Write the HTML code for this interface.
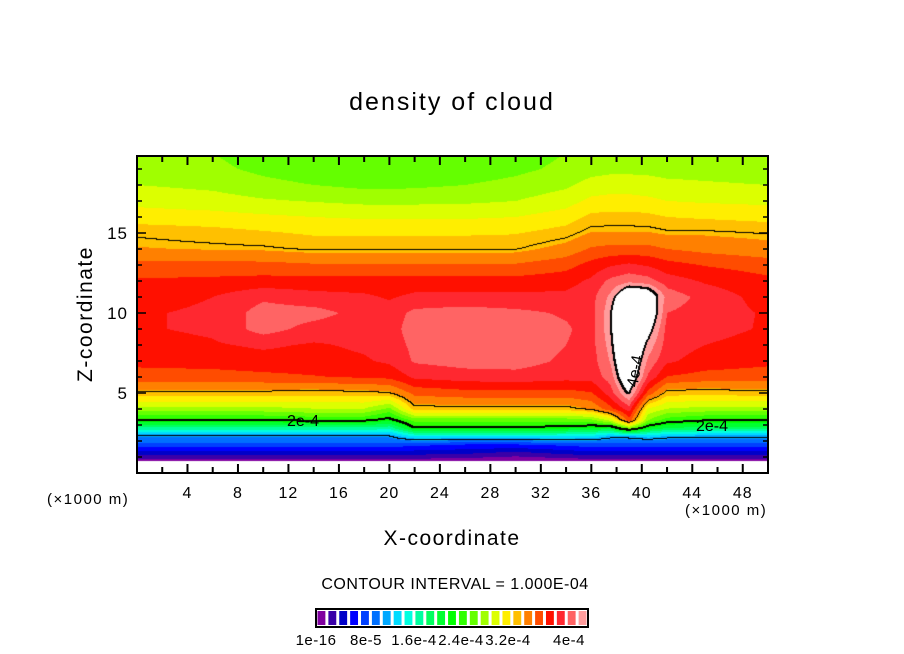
<!DOCTYPE html>
<html><head><meta charset="utf-8">
<style>
body{margin:0;background:#fff;width:904px;height:654px;overflow:hidden;position:relative;font-family:"Liberation Sans",sans-serif;}
.t{position:absolute;white-space:nowrap;color:#000;}
</style></head>
<body>
<div class="t" style="left:0;width:904px;text-align:center;top:88px;font-size:25px;letter-spacing:2px;">density of cloud</div>
<canvas id="cv" width="631" height="317" style="position:absolute;left:137px;top:156px;"></canvas>
<svg id="ax" width="904" height="654" style="position:absolute;left:0;top:0;"></svg>
<div class="t" style="left:0;width:904px;text-align:center;top:527px;font-size:21px;letter-spacing:1.5px;">X-coordinate</div>
<div class="t" style="left:86px;top:314px;font-size:21px;letter-spacing:1.5px;transform:translate(-50%,-50%) rotate(-90deg);">Z-coordinate</div>
<div class="t" style="left:47px;top:491px;font-size:15px;letter-spacing:1.5px;">(×1000 m)</div>
<div class="t" style="left:685px;top:502px;font-size:15px;letter-spacing:1.5px;">(×1000 m)</div>
<div class="t" style="left:0;width:910px;text-align:center;top:576px;font-size:16px;letter-spacing:0.5px;">CONTOUR INTERVAL = 1.000E-04</div>
<script>
const xCols=[0,6,10,14,18,20,22,26,30,34,36,37.5,39,40.5,42,45,50];
const zRows=[0,0.5,0.8,1.3,1.8,2.3,2.8,3.3,4,5,6,7,8,9,10,11,12,13,14,15,16,17,18,19,20];
const density=[
[-0.5,-0.5,-0.5,-0.5,-0.5,-0.5,-0.5,-0.5,-0.5,-0.5,-0.5,-0.5,-0.5,-0.5,-0.5,-0.5,-0.5],
[-0.3,-0.3,-0.3,-0.3,-0.3,-0.3,-0.3,-0.3,-0.2,-0.3,-0.3,-0.3,-0.3,-0.3,-0.3,-0.3,-0.3],
[0.1,0.1,0.1,0.1,0.1,0.1,0.1,0.08,0.03,0.08,0.1,0.1,0.1,0.1,0.1,0.1,0.1],
[0.45,0.45,0.45,0.45,0.45,0.45,0.42,0.38,0.3,0.4,0.45,0.45,0.45,0.45,0.45,0.45,0.45],
[0.75,0.75,0.75,0.75,0.75,0.75,0.7,0.65,0.65,0.7,0.75,0.75,0.75,0.75,0.75,0.75,0.75],
[1.0,1.0,1.0,1.0,1.0,1.0,1.3,1.3,1.3,1.3,1.25,1.1,1.1,1.2,1.1,1.05,1.05],
[1.55,1.55,1.55,1.55,1.55,1.5,2.0,2.0,2.0,1.95,1.9,1.85,2.4,1.9,1.75,1.7,1.7],
[2.05,2.05,2.05,2.1,2.1,1.95,2.3,2.3,2.3,2.3,2.35,2.6,3.3,2.4,2.15,2.05,2.05],
[2.5,2.5,2.5,2.55,2.55,2.35,2.95,2.95,2.95,2.95,3.05,3.3,3.6,2.7,2.55,2.5,2.5],
[2.97,2.97,2.97,2.95,2.97,3.0,3.25,3.3,3.3,3.3,3.35,3.6,4.05,3.3,2.95,2.93,2.97],
[3.3,3.3,3.32,3.35,3.38,3.4,3.55,3.6,3.62,3.58,3.58,3.75,4.3,3.65,3.35,3.3,3.28],
[3.4,3.42,3.45,3.45,3.5,3.55,3.7,3.75,3.75,3.65,3.6,3.85,4.4,3.8,3.55,3.45,3.4],
[3.45,3.5,3.55,3.5,3.55,3.6,3.72,3.8,3.78,3.68,3.62,3.9,4.5,3.95,3.6,3.52,3.45],
[3.5,3.55,3.75,3.62,3.58,3.62,3.75,3.8,3.78,3.7,3.62,3.95,4.5,4.15,3.62,3.58,3.5],
[3.5,3.55,3.75,3.74,3.62,3.6,3.72,3.76,3.72,3.66,3.62,3.95,4.5,4.35,3.68,3.6,3.5],
[3.45,3.52,3.65,3.58,3.55,3.5,3.56,3.56,3.56,3.56,3.62,3.88,4.3,4.25,3.78,3.62,3.45],
[3.38,3.4,3.42,3.42,3.42,3.42,3.42,3.42,3.42,3.46,3.55,3.72,3.8,3.75,3.6,3.5,3.4],
[3.25,3.25,3.25,3.22,3.22,3.22,3.22,3.22,3.22,3.3,3.42,3.5,3.55,3.5,3.42,3.35,3.28],
[3.05,3.03,3.02,2.98,2.98,2.98,2.98,2.98,2.99,3.1,3.22,3.25,3.25,3.25,3.2,3.15,3.1],
[2.98,2.94,2.9,2.86,2.86,2.86,2.86,2.86,2.87,2.95,3.05,3.05,3.05,3.05,3.02,3.02,2.99],
[2.8,2.78,2.75,2.72,2.7,2.7,2.7,2.7,2.72,2.8,2.92,2.93,2.93,2.92,2.88,2.86,2.83],
[2.67,2.63,2.58,2.55,2.52,2.52,2.52,2.53,2.56,2.65,2.76,2.78,2.78,2.76,2.72,2.7,2.68],
[2.56,2.52,2.45,2.4,2.36,2.36,2.37,2.4,2.45,2.53,2.62,2.64,2.64,2.62,2.6,2.58,2.56],
[2.48,2.44,2.36,2.3,2.27,2.27,2.28,2.3,2.36,2.44,2.5,2.52,2.52,2.52,2.5,2.5,2.48],
[2.45,2.4,2.32,2.26,2.24,2.24,2.25,2.27,2.32,2.4,2.46,2.48,2.48,2.48,2.47,2.47,2.45]];
const palette=['#8000a0','#3a00a8','#0000c8','#0000ff','#0040ff','#0070ff','#00a8ff','#00dcff','#00ffe0','#00ffa0','#00ff60','#00ff30','#00ff00','#30ff00','#64ff00','#a0ff00','#dcff00','#ffee00','#ffc000','#ff8000','#ff4c00','#ff1000','#ff2830','#ff6464','#ff9c9c'];
const contourLevels=[1,2,3,4];
const xTickLabels=[4,8,12,16,20,24,28,32,36,40,44,48];
const yTickLabels=[5,10,15];
const cbarLabels=['1e-16','8e-5','1.6e-4','2.4e-4','3.2e-4','4e-4'];

const PL=137,PT=156,PW=631,PH=317,XMAX=50,ZMAX=PH/16;
const sx=x=>PL+x/XMAX*PW, sz=z=>PT+PH-z*16;
function seg(arr,v){let i=0;while(i<arr.length-2&&v>arr[i+1])i++;return [i,Math.max(0,Math.min(1,(v-arr[i])/(arr[i+1]-arr[i])))];}
function field(x,z){const [i,fx]=seg(xCols,x),[j,fz]=seg(zRows,z);
 const a=density[j][i],b=density[j][i+1],c=density[j+1][i],d=density[j+1][i+1];
 return (a*(1-fx)+b*fx)*(1-fz)+(c*(1-fx)+d*fx)*fz;}
const cv=document.getElementById('cv'),ctx=cv.getContext('2d');
const img=ctx.createImageData(PW,PH);const V=[];
for(let py=0;py<PH;py++){V.push([]);for(let px=0;px<PW;px++){V[py].push(field((px+0.5)/PW*XMAX,(PH-py-0.5)/16));}}
function hex(h){return [parseInt(h.substr(1,2),16),parseInt(h.substr(3,2),16),parseInt(h.substr(5,2),16)];}
const pal=palette.map(hex);
const NC=palette.length, VMAX=4.0;
for(let py=0;py<PH;py++)for(let px=0;px<PW;px++){
 const v=V[py][px];let c;
 if(v<=0||v>=VMAX)c=[255,255,255];else{const k=Math.floor(v/VMAX*NC);c=pal[Math.min(k,NC-1)];}
 let line=0;
 for(const L of contourLevels){const w=(L%2===0)?2:1;
  for(let s=1;s<=w;s++){for(const [dx,dy] of [[s,0],[0,s]]){const qx=px+dx,qy=py+dy;if(qx<PW&&qy<PH){if((V[py][px]<L)!==(V[qy][qx]<L))line=1;}}}}
 if(line)c=[0,0,0];
 const o=(py*PW+px)*4;img.data[o]=c[0];img.data[o+1]=c[1];img.data[o+2]=c[2];img.data[o+3]=255;}
ctx.putImageData(img,0,0);

const NS='http://www.w3.org/2000/svg',ax=document.getElementById('ax');
function mk(t,at){const e=document.createElementNS(NS,t);for(const k in at)e.setAttribute(k,at[k]);ax.appendChild(e);return e;}
let e=mk('rect',{x:PL,y:PT,width:PW,height:PH,fill:'none',stroke:'#000','stroke-width':2});


for(let x=2;x<XMAX;x+=2){const L=(x%4===0)?9:6;
 e=mk('line',{x1:sx(x),x2:sx(x),y1:PT+PH,y2:PT+PH-L,stroke:'#000','stroke-width':2});
 
 
 e=mk('line',{x1:sx(x),x2:sx(x),y1:PT,y2:PT+L,stroke:'#000','stroke-width':2});
 
 }
for(const v of xTickLabels){e=mk('text',{x:sx(v),y:498,'text-anchor':'middle','font-size':16,'letter-spacing':1,'font-family':'Liberation Sans'});e.textContent=v;
 
 }
for(let z=1;z<ZMAX;z+=1){const L=(z%5===0)?9:5;
 e=mk('line',{x1:PL,x2:PL+L,y1:sz(z),y2:sz(z),stroke:'#000','stroke-width':1.5});
 
 
 e=mk('line',{x1:PL+PW,x2:PL+PW-L,y1:sz(z),y2:sz(z),stroke:'#000','stroke-width':1.5});
 
 }
for(const v of yTickLabels){e=mk('text',{x:128,y:sz(v)+6,'text-anchor':'end','font-size':17,'letter-spacing':1,'font-family':'Liberation Sans'});e.textContent=v;
 
 }
function lab(t,x,y,rot){e=mk('text',{x:x,y:y,'font-size':16,'font-family':'Liberation Sans','text-anchor':'middle',transform:rot?`rotate(${rot} ${x} ${y})`:''});e.textContent=t;return e;}
e=lab('2e-4',303,426,0);
e=lab('2e-4',712,431,0);
e=lab('4e-4',640,372,-80);
const CX=316,CW=272,CY=609,CH=18,n=palette.length,bw=CW/n;
for(let i=0;i<n;i++){e=mk('rect',{x:CX+i*bw+1.5,y:CY+2,width:bw-3,height:CH-4,fill:palette[i]});
 
 }
e=mk('rect',{x:CX,y:CY,width:CW,height:CH,fill:'none',stroke:'#000','stroke-width':2});


const cbx=[316,366,414,461,508,569];
cbarLabels.forEach((t,i)=>{e=mk('text',{x:cbx[i],y:645,'text-anchor':'middle','font-size':15,'letter-spacing':0.5,'font-family':'Liberation Sans'});e.textContent=t;
 
 });
</script>
</body></html>
